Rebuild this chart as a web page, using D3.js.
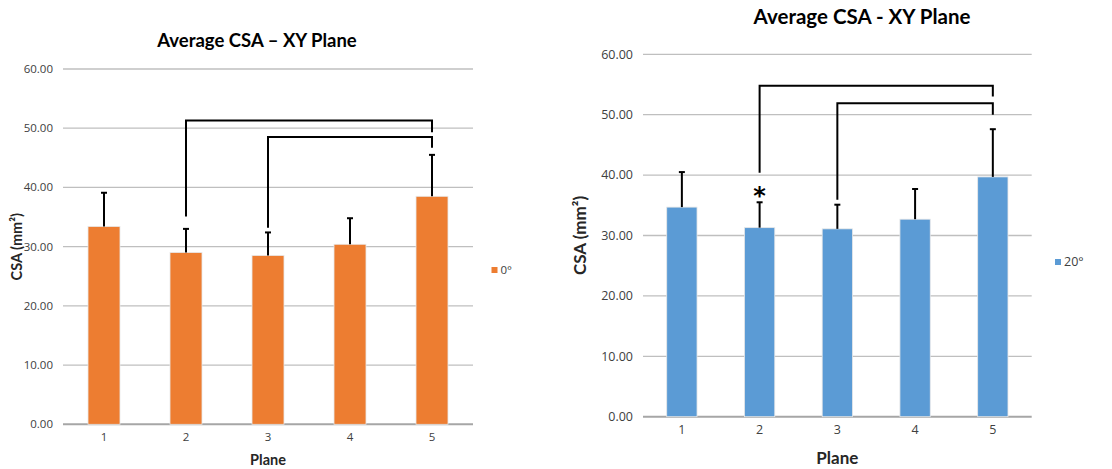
<!DOCTYPE html>
<html>
<head>
<meta charset="utf-8">
<script src="https://cdn.jsdelivr.net/npm/d3@7"></script>
<style>
  body { margin: 0; background: #fff; }
  svg { font-family: Lato, "Open Sans", sans-serif; }
  .tick-label { font-family: "Open Sans", sans-serif; }
</style>
</head>
<body>
<svg id="chart" width="1112" height="469"></svg>
<script>
// data
const planes = ["1", "2", "3", "4", "5"];
const yTicks = [0, 10, 20, 30, 40, 50, 60];

const mean0 = [33.4, 29.0, 28.5, 30.4, 38.5];
const sd0 = [5.7, 4.0, 3.9, 4.4, 7.0];
const mean20 = [34.7, 31.3, 31.1, 32.7, 39.7];
const sd20 = [5.8, 4.2, 4.0, 5.0, 7.9];

// significance brackets: from plane, to plane, bar height, leg ends
const brackets0 = [
  { from: "2", to: "5", y: 51.3, footFrom: 35.1, footTo: 49.3 },
  { from: "3", to: "5", y: 48.5, footFrom: 33.2, footTo: 46.7 }
];
const brackets20 = [
  { from: "2", to: "5", y: 54.8, footFrom: 40.4, footTo: 53.0 },
  { from: "3", to: "5", y: 51.9, footFrom: 35.9, footTo: 50.0 }
];
const stars20 = [{ plane: "2", y: 38.4 }];

const svg = d3.select("#chart");

function drawChart(o) {
  const g = svg.append("g");
  const x = d3.scaleBand().domain(planes).range([o.left, o.right]).paddingInner(0.61).paddingOuter(0.305);
  const y = d3.scaleLinear().domain([0, 60]).range([o.bottom, o.top]);

  // grid
  g.selectAll(".grid").data(yTicks).enter().append("line")
    .attr("x1", o.left).attr("x2", o.right)
    .attr("y1", d => y(d)).attr("y2", d => y(d))
    .attr("stroke", d => d === 0 ? "#a6a6a6" : "#bfbfbf")
    .attr("stroke-width", d => d === 0 ? 2 : 1.3);

  // y tick labels
  g.selectAll(".ytick").data(yTicks).enter().append("text")
    .attr("class", "tick-label")
    .attr("x", o.left - 10).attr("y", d => y(d)).attr("dy", "0.35em")
    .attr("text-anchor", "end").attr("font-size", o.tickSize).attr("fill", "#404040")
    .text(d => d3.format(".2f")(d));

  // x tick labels
  g.selectAll(".xtick").data(planes).enter().append("text")
    .attr("class", "tick-label")
    .attr("x", d => x(d) + x.bandwidth() / 2).attr("y", o.bottom + 17)
    .attr("text-anchor", "middle").attr("font-size", o.tickSize).attr("fill", "#404040")
    .text(d => d);

  // bars
  g.selectAll(".bar").data(o.means).enter().append("rect")
    .attr("x", (d, i) => x(planes[i]))
    .attr("y", d => y(d))
    .attr("width", x.bandwidth())
    .attr("height", d => o.bottom - y(d))
    .attr("fill", o.color)
    .attr("stroke", "#e8e8e8").attr("stroke-width", 0.8);

  // error bars (upper only)
  const cx = i => x(planes[i]) + x.bandwidth() / 2;
  g.selectAll(".err").data(o.means).enter().append("line")
    .attr("x1", (d, i) => cx(i)).attr("x2", (d, i) => cx(i))
    .attr("y1", d => y(d)).attr("y2", (d, i) => y(d + o.sds[i]))
    .attr("stroke", "#000").attr("stroke-width", 2);
  g.selectAll(".cap").data(o.means).enter().append("line")
    .attr("x1", (d, i) => cx(i) - 3).attr("x2", (d, i) => cx(i) + 3)
    .attr("y1", (d, i) => y(d + o.sds[i])).attr("y2", (d, i) => y(d + o.sds[i]))
    .attr("stroke", "#000").attr("stroke-width", 2);

  // brackets
  const bx = p => x(p) + x.bandwidth() / 2;
  g.selectAll(".bracket").data(o.brackets).enter().append("path")
    .attr("d", b => `M${bx(b.from)},${y(b.footFrom)}V${y(b.y)}H${bx(b.to)}V${y(b.footTo)}`)
    .attr("fill", "none").attr("stroke", "#000").attr("stroke-width", 2);

  g.selectAll(".star").data(o.stars || []).enter().append("text")
    .attr("x", s => bx(s.plane)).attr("y", s => y(s.y)).attr("dy", "0.8em")
    .attr("text-anchor", "middle").attr("font-size", 24).attr("font-weight", "bold")
    .attr("font-family", "'DejaVu Sans', sans-serif")
    .text("*");

  // title
  g.append("text").attr("x", o.titleX).attr("y", o.titleY)
    .attr("text-anchor", "middle").attr("font-size", o.titleSize).attr("font-weight", "bold")
    .attr("fill", "#000").text(o.title);

  // axis titles
  g.append("text").attr("x", (o.left + o.right) / 2).attr("y", o.bottom + o.planeDy)
    .attr("text-anchor", "middle").attr("font-size", o.labelSize).attr("font-weight", "bold")
    .attr("fill", "#262626").text("Plane");
  g.append("text")
    .attr("transform", `translate(${o.yLabelX},${(o.top + o.bottom) / 2}) rotate(-90)`)
    .attr("text-anchor", "middle").attr("font-size", o.labelSize).attr("font-weight", "bold")
    .attr("fill", "#262626")
    .text("CSA (mm²)");

  // legend
  g.append("rect").attr("x", o.legX).attr("y", o.legY - 3).attr("width", 6).attr("height", 6)
    .attr("fill", o.color);
  g.append("text").attr("class", "tick-label").attr("x", o.legX + 9).attr("y", o.legY).attr("dy", "0.35em")
    .attr("font-size", o.tickSize).attr("fill", "#404040").text(o.legend);
}

drawChart({
  left: 63, right: 473, top: 69, bottom: 424.3,
  means: mean0, sds: sd0, brackets: brackets0, color: "#ED7D31",
  title: "Average CSA – XY Plane", titleX: 257, titleY: 47, titleSize: 18.5,
  tickSize: 11.5, labelSize: 14.5, yLabelX: 22, planeDy: 41,
  legX: 491.5, legY: 270, legend: "0°"
});

drawChart({
  left: 643, right: 1031.7, top: 54.3, bottom: 416.7,
  means: mean20, sds: sd20, brackets: brackets20, stars: stars20, color: "#5B9BD5",
  title: "Average CSA - XY Plane", titleX: 862, titleY: 24, titleSize: 20.5,
  tickSize: 12.5, labelSize: 17, yLabelX: 586, planeDy: 47,
  legX: 1055, legY: 262, legend: "20°"
});
</script>
</body>
</html>
